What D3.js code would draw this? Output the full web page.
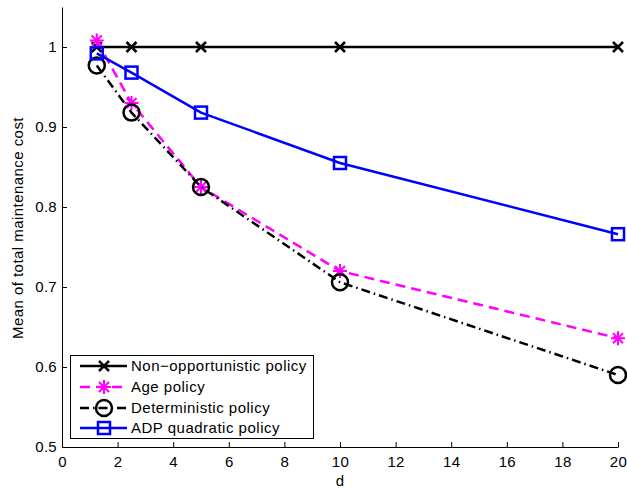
<!DOCTYPE html>
<html><head><meta charset="utf-8">
<script src="https://cdn.jsdelivr.net/npm/d3@7"></script>
<style>body{margin:0;background:#fff}svg{display:block}text{font-family:"Liberation Sans",Arial,sans-serif}</style>
</head><body>
<svg id="c" width="627" height="491"></svg>
<script>
const dValues = [1.25, 2.5, 5, 10, 20];
const nonOpp = [1, 1, 1, 1, 1];
const agePolicy = [1.008, 0.93, 0.825, 0.72, 0.636];
const detPolicy = [0.977, 0.918, 0.825, 0.706, 0.59];
const adpPolicy = [0.992, 0.968, 0.918, 0.855, 0.766];
const xTicks = [0, 2, 4, 6, 8, 10, 12, 14, 16, 18, 20];
const yTicks = [0.5, 0.6, 0.7, 0.8, 0.9, 1];
const seriesNames = ["Non\u2212opportunistic policy", "Age policy", "Deterministic policy", "ADP quadratic policy"];

const FONT = '"Liberation Sans",Arial,sans-serif';
const svg = d3.select("#c");
const x = d3.scaleLinear().domain([0, 20]).range([62, 618]);
const y = d3.scaleLinear().domain([0.5, 1.05]).range([447, 7]);

// axes
const xAxis = d3.axisBottom(x).tickValues(xTicks).tickSize(-5).tickSizeOuter(0).tickPadding(9);
const gx = svg.append("g").attr("transform", "translate(0,447)").call(xAxis);
const yAxis = d3.axisLeft(y).tickValues(yTicks).tickSize(-5).tickSizeOuter(0).tickPadding(5)
  .tickFormat(d => d === 1 ? "1" : d3.format(".1f")(d));
const gy = svg.append("g").attr("transform", "translate(62,0)").call(yAxis);
[gx, gy].forEach(g => {
  g.selectAll("path.domain").attr("stroke", "#000").attr("stroke-width", 1);
  g.selectAll(".tick line").attr("stroke", "#000");
  g.selectAll("text").attr("font-size", 15).attr("fill", "#000").style("font-family", FONT).style("letter-spacing", "0.3px");
});
gx.selectAll("text").attr("dy", "0.71em");

svg.append("text").attr("x", 340).attr("y", 486).attr("text-anchor", "middle").attr("font-size", 15).text("d");
svg.append("text").attr("transform", "translate(23,228) rotate(-90)").attr("text-anchor", "middle")
  .attr("font-size", 15).style("letter-spacing", "0.45px").text("Mean of total maintenance cost");

const series = [
  {vals: nonOpp, color: "#000", dash: null, marker: "x"},
  {vals: agePolicy, color: "#ff00ff", dash: "10,6", marker: "star"},
  {vals: detPolicy, color: "#000", dash: "9,4,1.5,4", marker: "circle"},
  {vals: adpPolicy, color: "#0000ff", dash: null, marker: "square"}
];

function drawMarker(g, type, cx, cy, color) {
  if (type === "x") {
    const s = 5;
    g.append("path").attr("d", `M${cx-s},${cy-s}L${cx+s},${cy+s}M${cx-s},${cy+s}L${cx+s},${cy-s}`)
      .attr("stroke", color).attr("stroke-width", 2.5).attr("fill", "none");
  } else if (type === "star") {
    const s = 7, t = s * 0.72;
    g.append("path").attr("d", `M${cx},${cy-s}L${cx},${cy+s}M${cx-s},${cy}L${cx+s},${cy}M${cx-t},${cy-t}L${cx+t},${cy+t}M${cx-t},${cy+t}L${cx+t},${cy-t}`)
      .attr("stroke", color).attr("stroke-width", 2).attr("fill", "none");
  } else if (type === "circle") {
    g.append("circle").attr("cx", cx).attr("cy", cy).attr("r", 8).attr("stroke", color).attr("stroke-width", 2.5).attr("fill", "none");
  } else if (type === "square") {
    g.append("rect").attr("x", cx-6).attr("y", cy-6).attr("width", 12).attr("height", 12).attr("stroke", color).attr("stroke-width", 2.5).attr("fill", "none");
  }
}

const line = d3.line().x((d, i) => x(dValues[i])).y(d => y(d));
series.forEach(s => {
  const g = svg.append("g");
  g.append("path").attr("d", line(s.vals)).attr("stroke", s.color).attr("stroke-width", 2.5).attr("fill", "none")
    .attr("stroke-dasharray", s.dash);
  s.vals.forEach((v, i) => drawMarker(g, s.marker, x(dValues[i]), y(v), s.color));
});

// legend
const lg = svg.append("g");
lg.append("rect").attr("x", 70.5).attr("y", 355.5).attr("width", 243).attr("height", 83).attr("fill", "#fff").attr("stroke", "#000").attr("stroke-width", 1);
const rowY = [366, 387, 408, 428];
series.forEach((s, i) => {
  const yy = rowY[i];
  lg.append("path").attr("d", `M80,${yy}L127,${yy}`).attr("stroke", s.color).attr("stroke-width", 2.5).attr("fill", "none").attr("stroke-dasharray", s.dash);
  drawMarker(lg, s.marker, 104, yy, s.color);
  lg.append("text").attr("x", 131).attr("y", yy).attr("dy", "0.36em").attr("font-size", 15).style("letter-spacing", "0.5px").text(seriesNames[i]);
});
</script>
</body></html>
